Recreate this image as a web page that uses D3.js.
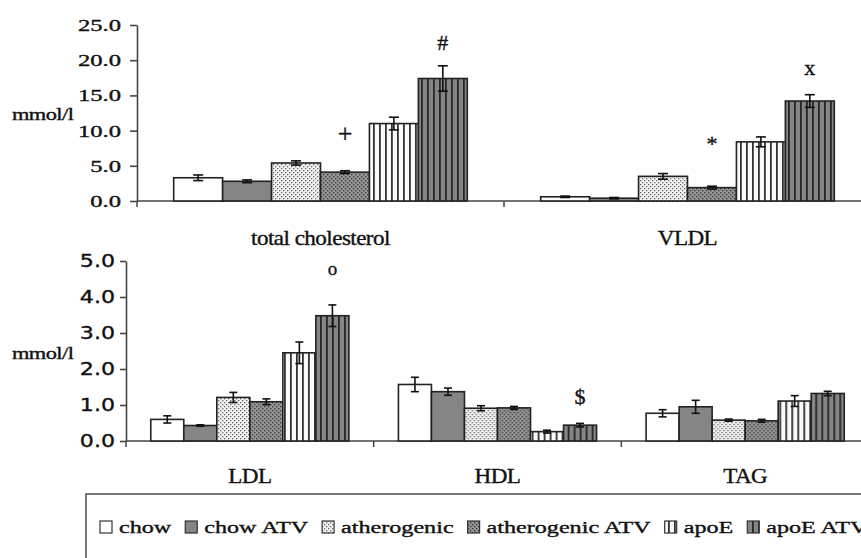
<!DOCTYPE html>
<html>
<head>
<meta charset="utf-8">
<script src="https://cdn.jsdelivr.net/npm/d3@7"></script>
<style>
  body { margin: 0; background: #fff; }
  svg { display: block; }
  text { font-family: "Liberation Serif", "Times New Roman", serif; fill: #111; stroke: #111; stroke-width: 0.35px; }
</style>
</head>
<body>
<div id="chart"></div>
<script>
// groups and values (mmol/l)
var series = ["chow", "chow ATV", "atherogenic", "atherogenic ATV", "apoE", "apoE ATV"];
var topCategories = ["total cholesterol", "VLDL"];
var bottomCategories = ["LDL", "HDL", "TAG"];
var topTicks = [0, 5, 10, 15, 20, 25];
var bottomTicks = [0, 1, 2, 3, 4, 5];

var totalChol = [3.3, 2.8, 5.4, 4.1, 11.0, 17.4];
var totalCholErr = [0.4, 0.2, 0.3, 0.2, 0.9, 1.8];
var vldl = [0.6, 0.4, 3.5, 1.9, 8.4, 14.2];
var vldlErr = [0.1, 0.1, 0.4, 0.2, 0.7, 0.9];
var ldl = [0.6, 0.43, 1.21, 1.09, 2.45, 3.48];
var ldlErr = [0.1, 0.02, 0.14, 0.08, 0.3, 0.3];
var hdl = [1.57, 1.37, 0.91, 0.92, 0.26, 0.44];
var hdlErr = [0.2, 0.1, 0.07, 0.04, 0.04, 0.05];
var tag = [0.77, 0.95, 0.58, 0.56, 1.11, 1.32];
var tagErr = [0.1, 0.18, 0.03, 0.04, 0.15, 0.06];

// significance marks: category, group, symbol, height (in axis units)
var annoCategory = ["total cholesterol", "total cholesterol", "VLDL", "VLDL", "LDL", "HDL"];
var annoSeries = ["atherogenic ATV", "apoE ATV", "atherogenic ATV", "apoE ATV", "apoE ATV", "apoE ATV"];
var annoSymbol = ["+", "#", "*", "x", "o", "$"];
var annoLevel = [9.7, 22.6, 8.2, 19.0, 4.8, 1.25];

var svg = d3.select("#chart").append("svg").attr("width", 861).attr("height", 558);

// fill patterns
var defs = svg.append("defs");
function dotPattern(id, bg, dot) {
  var p = defs.append("pattern").attr("id", id).attr("patternUnits", "userSpaceOnUse")
    .attr("width", 4).attr("height", 4);
  p.append("rect").attr("width", 4).attr("height", 4).attr("fill", bg);
  p.append("rect").attr("x", 0).attr("y", 0).attr("width", 1.3).attr("height", 1.3).attr("fill", dot);
  p.append("rect").attr("x", 2).attr("y", 2).attr("width", 1.3).attr("height", 1.3).attr("fill", dot);
}
function stripePattern(id, bg, line) {
  var p = defs.append("pattern").attr("id", id).attr("patternUnits", "userSpaceOnUse")
    .attr("width", 6).attr("height", 6);
  p.append("rect").attr("width", 6).attr("height", 6).attr("fill", bg);
  p.append("rect").attr("x", 2).attr("width", 1.8).attr("height", 6).attr("fill", line);
}
dotPattern("dotLight", "#f2f2f2", "#6a6a6a");
dotPattern("dotDark", "#959595", "#363636");
stripePattern("stripeLight", "#fafafa", "#333");
stripePattern("stripeDark", "#858585", "#262626");

var fills = d3.scaleOrdinal()
  .domain(series)
  .range(["#ffffff", "#858585", "url(#dotLight)", "url(#dotDark)", "url(#stripeLight)", "url(#stripeDark)"]);

function stretchText(sel, sx) {
  sel.each(function () {
    var t = d3.select(this);
    var x = +t.attr("x") || 0;
    t.attr("x", x / sx).attr("transform", (t.attr("transform") || "") + " scale(" + sx + ",1)");
  });
}

function drawPanel(cfg) {
  var g = svg.append("g");
  var y = d3.scaleLinear().domain(cfg.domain).range([cfg.bottom, cfg.top]);
  var x0 = d3.scaleBand().domain(cfg.categories).range([cfg.left, cfg.right]).paddingInner(0).paddingOuter(0);
  var x1 = d3.scaleBand().domain(series).range([0, x0.bandwidth()]).paddingInner(0).paddingOuter(0.75);

  // y axis
  var yAxis = g.append("g")
    .attr("transform", "translate(" + cfg.left + ",0)")
    .call(d3.axisLeft(y).tickValues(cfg.ticks).tickFormat(d3.format(".1f"))
      .tickSize(cfg.tickSize).tickSizeOuter(0).tickPadding(cfg.tickPad));
  yAxis.select(".domain").attr("stroke", "#444").attr("stroke-width", 1.6);
  yAxis.selectAll(".tick line").attr("stroke", "#444").attr("stroke-width", 1.6);
  yAxis.selectAll(".tick text")
    .style("font-family", cfg.tickFont)
    .style("font-size", cfg.tickFontSize + "px")
    .attr("fill", "#222");
  stretchText(yAxis.selectAll(".tick text"), cfg.tickStretch);

  // x axis line and category separators
  g.append("line")
    .attr("x1", cfg.left).attr("x2", 861)
    .attr("y1", y(0)).attr("y2", y(0))
    .attr("stroke", "#444").attr("stroke-width", 1.6);
  var bounds = cfg.categories.map(function (c) { return x0(c); });
  g.selectAll(".sep").data(bounds).enter().append("line")
    .attr("x1", function (d) { return d; }).attr("x2", function (d) { return d; })
    .attr("y1", y(0)).attr("y2", y(0) + 6)
    .attr("stroke", "#444").attr("stroke-width", 1.5);

  // bars
  var groups = g.selectAll(".cat").data(cfg.categories).enter().append("g")
    .attr("transform", function (c) { return "translate(" + x0(c) + ",0)"; });

  groups.each(function (c, ci) {
    var vals = cfg.values[ci], errs = cfg.errors[ci];
    var cg = d3.select(this);
    var rows = series.map(function (s, i) { return {s: s, v: vals[i], e: errs[i]}; });
    cg.selectAll("rect").data(rows).enter().append("rect")
      .attr("x", function (d) { return x1(d.s); })
      .attr("y", function (d) { return y(d.v); })
      .attr("width", x1.bandwidth())
      .attr("height", function (d) { return y(0) - y(d.v); })
      .attr("fill", function (d) { return fills(d.s); })
      .attr("stroke", "#222").attr("stroke-width", 1.6);

    var eb = cg.selectAll(".err").data(rows).enter().append("g").attr("class", "err")
      .attr("stroke", "#111").attr("stroke-width", 1.6);
    eb.append("line")
      .attr("x1", function (d) { return x1(d.s) + x1.bandwidth() / 2; })
      .attr("x2", function (d) { return x1(d.s) + x1.bandwidth() / 2; })
      .attr("y1", function (d) { return y(d.v + d.e); })
      .attr("y2", function (d) { return y(d.v - d.e); });
    [1, -1].forEach(function (sign) {
      eb.append("line")
        .attr("x1", function (d) { return x1(d.s) + x1.bandwidth() / 2 - cfg.cap; })
        .attr("x2", function (d) { return x1(d.s) + x1.bandwidth() / 2 + cfg.cap; })
        .attr("y1", function (d) { return y(d.v + sign * d.e); })
        .attr("y2", function (d) { return y(d.v + sign * d.e); });
    });
  });

  // category labels
  var cl = g.selectAll(".catlabel").data(cfg.categories).enter().append("text")
    .attr("text-anchor", "middle")
    .attr("transform", function (c) { return "translate(" + (x0(c) + x0.bandwidth() / 2) + "," + cfg.labelY + ")"; })
    .style("font-size", "21px")
    .style("letter-spacing", "-0.5px")
    .text(function (c) { return c; });
  stretchText(cl, 1.1);

  // unit label
  var ul = g.append("text")
    .attr("transform", "translate(12," + cfg.unitY + ")")
    .style("font-size", "16px")
    .style("letter-spacing", "-0.4px")
    .text("mmol/l");
  stretchText(ul, 1.4);

  // significance marks
  annoSymbol.forEach(function (sym, i) {
    if (cfg.categories.indexOf(annoCategory[i]) < 0) return;
    g.append("text")
      .attr("x", x0(annoCategory[i]) + x1(annoSeries[i]) + x1.bandwidth() / 2)
      .attr("y", y(annoLevel[i]))
      .attr("dy", "0.35em")
      .attr("text-anchor", "middle")
      .style("font-size", sym === "o" ? "19px" : (sym === "+" ? "26px" : "22px"))
      .text(sym);
  });
}

drawPanel({
  categories: topCategories, values: [totalChol, vldl], errors: [totalCholErr, vldlErr],
  domain: [0, 25], ticks: topTicks, top: 25, bottom: 201, left: 137, right: 871,
  tickSize: 7, tickPad: 9, tickFont: "Liberation Serif", tickFontSize: 17, tickStretch: 1.45,
  cap: 5, labelY: 245, unitY: 120
});

drawPanel({
  categories: bottomCategories, values: [ldl, hdl, tag], errors: [ldlErr, hdlErr, tagErr],
  domain: [0, 5], ticks: bottomTicks, top: 261, bottom: 441, left: 126, right: 869,
  tickSize: 6, tickPad: 5, tickFont: "DejaVu Sans", tickFontSize: 17, tickStretch: 1.3,
  cap: 4, labelY: 483, unitY: 359
});

// legend
var legend = svg.append("g");
legend.append("rect")
  .attr("x", 86).attr("y", 494).attr("width", 820).attr("height", 100)
  .attr("fill", "#fff").attr("stroke", "#555").attr("stroke-width", 1.6);

var lx = 100, legendY = 528, legendStretch = 1.42;
series.forEach(function (s) {
  legend.append("rect")
    .attr("x", lx).attr("y", legendY - 7).attr("width", 12).attr("height", 12)
    .attr("fill", fills(s)).attr("stroke", "#333").attr("stroke-width", 1.2);
  var t = legend.append("text")
    .attr("transform", "translate(" + (lx + 19) + "," + (legendY + 5) + ")")
    .style("font-size", "17px")
    .text(s);
  stretchText(t, legendStretch);
  lx += 19 + t.node().getComputedTextLength() * legendStretch + 14;
});
</script>
</body>
</html>
